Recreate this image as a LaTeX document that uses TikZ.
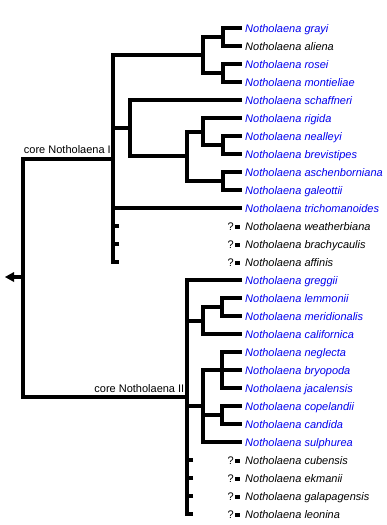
\documentclass[tikz,border=0pt]{standalone}
\usepackage{fontspec}
\setmainfont{Liberation Sans}
\definecolor{linkblue}{RGB}{0,0,238}
\newcommand\leaf[4]{\coordinate (e#1) at (242,#2);
  \node[#3] (l#1) at (245,{#2+4}) {Notholaena #4};}
\newcommand\qleaf[3]{\coordinate (e#1) at (242,#2);
  \node[qmark] (q#1) at (234,{#2+4}) {?};
  \fill ({234.5},{#2-1.5}) rectangle ({239.5},{#2+2.5});
  \node[plain] (l#1) at (245,{#2+4}) {Notholaena #3};}
\begin{document}
\begin{tikzpicture}[x=1pt,y=-1pt,
  taxon/.style={anchor=base west, inner sep=0pt, font=\fontsize{11}{13}\selectfont\itshape},
  linked/.style={taxon, text=linkblue},
  plain/.style={taxon, text=black},
  cladelabel/.style={anchor=base east, inner sep=0pt, font=\fontsize{11}{13}\selectfont},
  qmark/.style={anchor=base east, inner sep=0pt, font=\fontsize{11}{13}\selectfont},
  branch/.style={draw=black, line width=4pt, line join=miter, line cap=butt}]
\useasboundingbox (0,0) rectangle (387,525);

% leaves
\leaf{1}{28}{linked}{grayi}
\leaf{2}{46}{plain}{aliena}
\leaf{3}{64}{linked}{rosei}
\leaf{4}{82}{linked}{montieliae}
\leaf{5}{100}{linked}{schaffneri}
\leaf{6}{118}{linked}{rigida}
\leaf{7}{136}{linked}{nealleyi}
\leaf{8}{154}{linked}{brevistipes}
\leaf{9}{172}{linked}{aschenborniana}
\leaf{10}{190}{linked}{galeottii}
\leaf{11}{208}{linked}{trichomanoides}
\qleaf{12}{226}{weatherbiana}
\qleaf{13}{244}{brachycaulis}
\qleaf{14}{262}{affinis}
\leaf{15}{280}{linked}{greggii}
\leaf{16}{298}{linked}{lemmonii}
\leaf{17}{316}{linked}{meridionalis}
\leaf{18}{334}{linked}{californica}
\leaf{19}{352}{linked}{neglecta}
\leaf{20}{370}{linked}{bryopoda}
\leaf{21}{388}{linked}{jacalensis}
\leaf{22}{406}{linked}{copelandii}
\leaf{23}{424}{linked}{candida}
\leaf{24}{442}{linked}{sulphurea}
\qleaf{25}{460}{cubensis}
\qleaf{26}{478}{ekmanii}
\qleaf{27}{496}{galapagensis}
\qleaf{28}{514}{leonina}

% internal nodes, core I
\coordinate (a1) at (223,37);
\coordinate (a2) at (223,73);
\coordinate (a) at (203,55);
\coordinate (nb) at (223,145);
\coordinate (rn) at (203,131.5);
\coordinate (ag) at (223,181);
\coordinate (rg) at (187,156.25);
\coordinate (b) at (130,128.125);
\coordinate (c1) at (113,158.5);
\coordinate (s1) at (119,226);
\coordinate (s2) at (119,244);
\coordinate (s3) at (119,262);
% core II
\coordinate (lm) at (222,307);
\coordinate (lmc) at (203,320.5);
\coordinate (nbj) at (222,370);
\coordinate (cc) at (222,415);
\coordinate (ns) at (203,406);
\coordinate (c2) at (187,397);
\coordinate (t1) at (193,460);
\coordinate (t2) at (193,478);
\coordinate (t3) at (193,496);
\coordinate (t4) at (193,514);
% root
\coordinate (r) at (23,277);
\coordinate (ab) at (14,277);
\coordinate (tip) at (5,277);

% core I branches
\draw[branch] (e1) -| (a1) |- (e2);
\draw[branch] (e3) -| (a2) |- (e4);
\draw[branch] (a1) -| (a) |- (a2);
\draw[branch] (e7) -| (nb) |- (e8);
\draw[branch] (e6) -| (rn) |- (nb);
\draw[branch] (e9) -| (ag) |- (e10);
\draw[branch] (rn) -| (rg) |- (ag);
\draw[branch] (e5) -| (b) |- (rg);
\draw[branch] (a) -| (c1) |- (s3);
\draw[branch] (b) -- (c1 |- b);
\draw[branch] (e11) -- (c1 |- e11);
\draw[branch] (s1) -- (c1 |- s1);
\draw[branch] (s2) -- (c1 |- s2);

% core II branches
\draw[branch] (e16) -| (lm) |- (e17);
\draw[branch] (lm) -| (lmc) |- (e18);
\draw[branch] (e19) -| (nbj) |- (e21);
\draw[branch] (e20) -- (nbj);
\draw[branch] (e22) -| (cc) |- (e23);
\draw[branch] (nbj) -| (ns) |- (e24);
\draw[branch] (cc) -- (ns |- cc);
\draw[branch] (e15) -| (c2) |- (t4);
\draw[branch] (lmc) -- (c2 |- lmc);
\draw[branch] (ns) -- (c2 |- ns);
\draw[branch] (t1) -- (c2 |- t1);
\draw[branch] (t2) -- (c2 |- t2);
\draw[branch] (t3) -- (c2 |- t3);

% root
\draw[branch] (c1) -| (r) |- (c2);
\draw[branch] (r) -- (ab);
\fill (tip) -- (ab |- 0,272) -- (ab |- 0,282) -- cycle;

% clade labels
\node[cladelabel] (lab1) at (111,153) {core Notholaena I};
\node[cladelabel] (lab2) at (184.5,392) {core Notholaena II};
\end{tikzpicture}
\end{document}
